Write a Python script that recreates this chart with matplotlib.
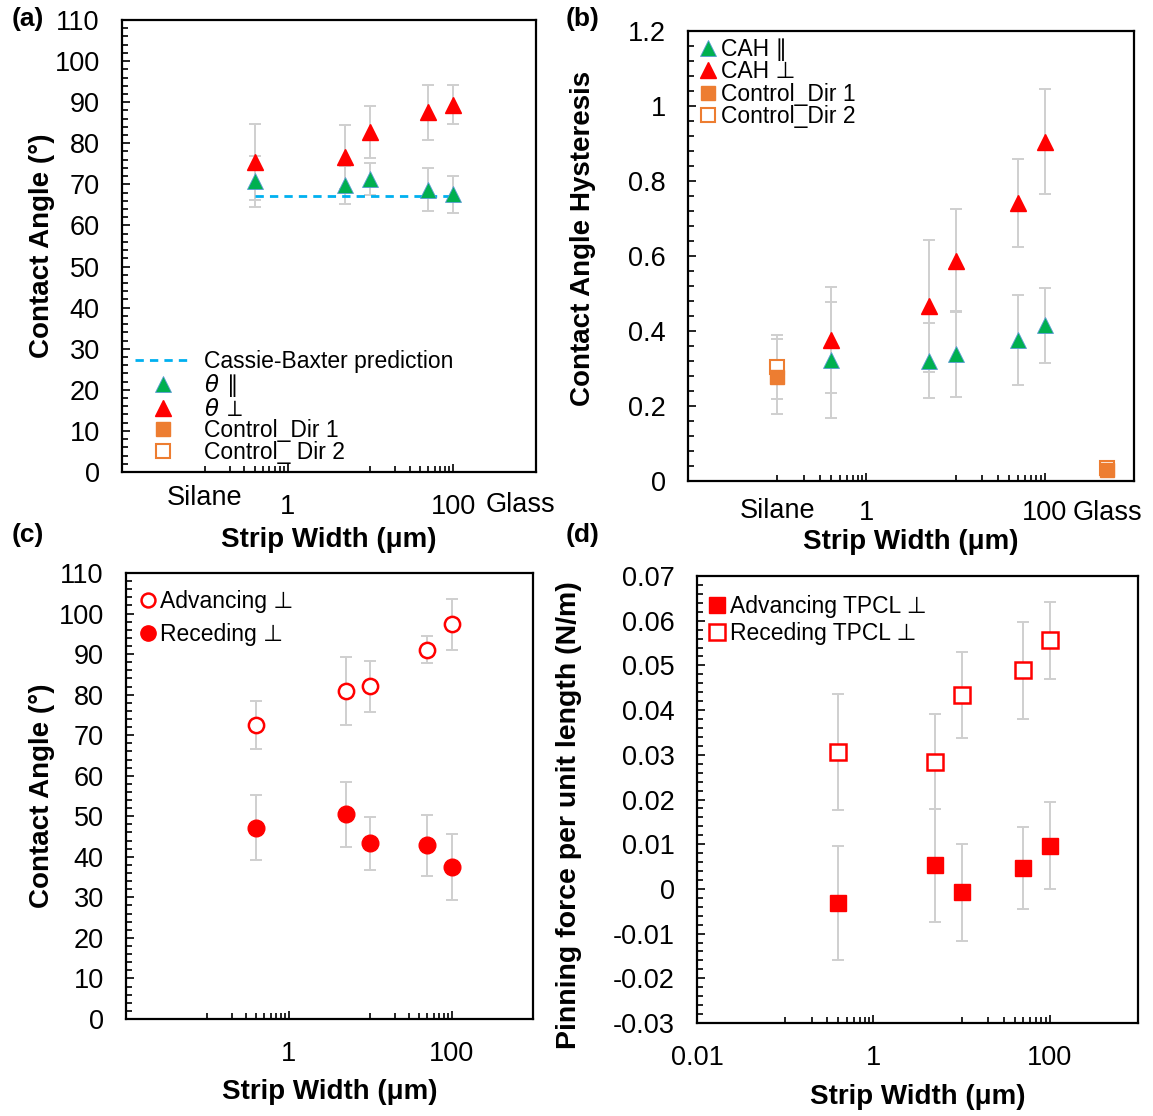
import numpy as np
import matplotlib
matplotlib.use('Agg')
import matplotlib.pyplot as plt
from matplotlib.lines import Line2D
from matplotlib.ticker import FixedLocator, MultipleLocator, NullFormatter, FuncFormatter

# strip widths (um) and the two control surfaces
widths = [0.4, 5, 10, 50, 100]
silane_x = 0.1
glass_x = 500
ctrl_x = [silane_x, glass_x]

# (a) contact angle
cassie_baxter = 67.2
theta_par = [70.8, 69.8, 71.3, 68.7, 67.6]
theta_par_err = [6.2, 4.7, 4.0, 5.3, 4.5]
theta_perp = [75.4, 76.6, 82.7, 87.5, 89.4]
theta_perp_err = [9.3, 7.8, 6.3, 6.6, 4.8]

# (b) contact angle hysteresis
cah_par = [0.323, 0.321, 0.339, 0.376, 0.416]
cah_par_err = [0.155, 0.100, 0.115, 0.120, 0.100]
cah_perp = [0.377, 0.466, 0.588, 0.742, 0.905]
cah_perp_err = [0.141, 0.176, 0.137, 0.117, 0.140]
ctrl_dir1 = [0.278, 0.030]
ctrl_dir1_err = [0.100, 0.004]
ctrl_dir2 = [0.304, 0.036]
ctrl_dir2_err = [0.085, 0.004]

# (c) advancing / receding angles
adv_perp = [72.6, 81.0, 82.1, 91.1, 97.3]
adv_perp_err = [5.9, 8.4, 6.3, 3.4, 6.3]
rec_perp = [47.2, 50.5, 43.3, 42.8, 37.5]
rec_perp_err = [8.0, 8.0, 6.5, 7.6, 8.2]

# (d) pinning force per unit length
f_adv = [-0.0032, 0.0053, -0.0008, 0.0046, 0.0097]
f_adv_err = [0.0128, 0.0126, 0.0108, 0.0092, 0.0097]
f_rec = [0.0307, 0.0285, 0.0433, 0.0489, 0.0556]
f_rec_err = [0.0130, 0.0107, 0.0096, 0.0109, 0.0086]

GREEN = '#00B050'
RED = '#FF0000'
ORANGE = '#ED7D31'
CB_BLUE = '#00B0F0'
ERR = '#CFCFCF'
TICK_FS = 19.5
LAB_FS = 20

plt.rcParams['font.family'] = ['Liberation Sans', 'DejaVu Sans']
plt.rcParams['axes.linewidth'] = 1.6

W, H = 1153, 1116
fig = plt.figure(figsize=(W / 100, H / 100), dpi=100)


def px_axes(l, t, r, b):
    return fig.add_axes([l / W, 1 - b / H, (r - l) / W, (b - t) / H])


def style_axes(ax, ymin, ymax, ymaj, ymin_step, yfmt=None, xpad=16):
    ax.set_xscale('log')
    ax.set_xlim(0.01, 1000)
    ax.set_ylim(ymin, ymax)
    ax.xaxis.set_major_locator(FixedLocator([0.01, 1, 100]))
    minors = [k * 0.1 for k in range(1, 10)] + [k * 10 for k in range(1, 10)]
    ax.xaxis.set_minor_locator(FixedLocator(minors))
    ax.xaxis.set_minor_formatter(NullFormatter())
    ax.yaxis.set_major_locator(MultipleLocator(ymaj))
    ax.yaxis.set_minor_locator(MultipleLocator(ymin_step))
    ax.tick_params(which='both', direction='in', width=1.2, labelsize=TICK_FS)
    ax.tick_params(which='major', length=6)
    ax.tick_params(which='minor', length=4)
    ax.tick_params(axis='y', which='both', pad=16, right=False)
    ax.tick_params(axis='x', which='both', pad=xpad, top=False)
    if yfmt is not None:
        ax.yaxis.set_major_formatter(FuncFormatter(yfmt))
    ax.xaxis.set_major_formatter(FuncFormatter(lambda v, p: '%g' % v))


def labels_xy(ax, ylab, ylx, xly, yly=0.5, yfs=LAB_FS):
    ax.set_ylabel(ylab, fontsize=yfs, fontweight='bold', va='center')
    ax.yaxis.set_label_coords(ylx, yly)
    ax.set_xlabel('Strip Width (μm)', fontsize=LAB_FS, fontweight='bold', va='center')
    ax.xaxis.set_label_coords(0.5, xly)


def eb(ax, x, y, err, z=2):
    ax.errorbar(x, y, yerr=err, fmt='none', ecolor=ERR, elinewidth=1.4,
                capsize=4.5, capthick=1.4, zorder=z)


# ---------------- (a) ----------------
ax = px_axes(122, 20, 536, 472)
style_axes(ax, 0, 110, 10, 2)
ax.set_xticks([1, 100])
ax.plot(widths, [cassie_baxter] * len(widths), ls=(0, (3, 2.2)), color=CB_BLUE, lw=2, zorder=3)
eb(ax, widths, theta_par, theta_par_err)
eb(ax, widths, theta_perp, theta_perp_err)
ax.plot(widths, theta_par, ls='none', marker='^', ms=12, mfc=GREEN, mec='#5B9BD5', mew=0.6, zorder=4)
ax.plot(widths, theta_perp, ls='none', marker='^', ms=12, mfc=RED, mec=RED, zorder=4)
ax.text(silane_x, -0.057, 'Silane', transform=ax.get_xaxis_transform(), ha='center', va='center',
        fontsize=TICK_FS)
ax.text(glass_x * 1.3, -0.073, 'Glass', transform=ax.get_xaxis_transform(), ha='center', va='center',
        fontsize=TICK_FS, clip_on=False)
labels_xy(ax, 'Contact Angle (°)', -0.193, -0.150)
handles = [
    Line2D([], [], ls=(0, (3, 2.2)), color=CB_BLUE, lw=2),
    Line2D([], [], ls='none', marker='^', ms=12, mfc=GREEN, mec='#5B9BD5', mew=0.6),
    Line2D([], [], ls='none', marker='^', ms=12, mfc=RED, mec=RED),
    Line2D([], [], ls='none', marker='s', ms=10, mfc=ORANGE, mec=ORANGE),
    Line2D([], [], ls='none', marker='s', ms=10, mfc='white', mec=ORANGE, mew=1.5),
]
labels = ['Cassie-Baxter prediction', r'$\theta\,\parallel$', r'$\theta\,\perp$',
          'Control_Dir 1', 'Control_ Dir 2']
ax.legend(handles, labels, loc='lower left', bbox_to_anchor=(0.031, 0.018), frameon=False,
          fontsize=16.5, handlelength=2.5, handletextpad=0.5, labelspacing=-0.06,
          borderpad=0, borderaxespad=0)

# ---------------- (b) ----------------
ax = px_axes(688, 31, 1134, 481)
style_axes(ax, 0, 1.2, 0.2, 0.04, yfmt=lambda v, p: '%g' % round(v, 2), xpad=14)
ax.set_xticks([1, 100])
eb(ax, ctrl_x, ctrl_dir2, ctrl_dir2_err)
eb(ax, ctrl_x, ctrl_dir1, ctrl_dir1_err)
eb(ax, widths, cah_par, cah_par_err)
eb(ax, widths, cah_perp, cah_perp_err)
ax.plot(ctrl_x, ctrl_dir2, ls='none', marker='s', ms=10, mfc='white', mec=ORANGE, mew=1.5, zorder=4)
ax.plot(ctrl_x, ctrl_dir1, ls='none', marker='s', ms=10, mfc=ORANGE, mec=ORANGE, zorder=5)
ax.plot(widths, cah_par, ls='none', marker='^', ms=12, mfc=GREEN, mec='#5B9BD5', mew=0.6, zorder=4)
ax.plot(widths, cah_perp, ls='none', marker='^', ms=12, mfc=RED, mec=RED, zorder=4)
ax.text(silane_x, -0.066, 'Silane', transform=ax.get_xaxis_transform(), ha='center', va='center',
        fontsize=TICK_FS)
ax.text(glass_x, -0.072, 'Glass', transform=ax.get_xaxis_transform(), ha='center', va='center',
        fontsize=TICK_FS, clip_on=False)
labels_xy(ax, 'Contact Angle Hysteresis', -0.235, -0.135, yly=0.54)
handles = [
    Line2D([], [], ls='none', marker='^', ms=12, mfc=GREEN, mec='#5B9BD5', mew=0.6),
    Line2D([], [], ls='none', marker='^', ms=12, mfc=RED, mec=RED),
    Line2D([], [], ls='none', marker='s', ms=10, mfc=ORANGE, mec=ORANGE),
    Line2D([], [], ls='none', marker='s', ms=10, mfc='white', mec=ORANGE, mew=1.5),
]
labels = ['CAH ∥', 'CAH ⊥', 'Control_Dir 1', 'Control_Dir 2']
ax.legend(handles, labels, loc='upper left', bbox_to_anchor=(0.02, 0.985), frameon=False,
          fontsize=16.5, handlelength=1.0, handletextpad=0.05, labelspacing=-0.02,
          borderpad=0, borderaxespad=0)

# ---------------- (c) ----------------
ax = px_axes(126, 573, 533, 1019)
style_axes(ax, 0, 110, 10, 2)
ax.set_xticks([1, 100])
eb(ax, widths, adv_perp, adv_perp_err)
eb(ax, widths, rec_perp, rec_perp_err)
ax.plot(widths, adv_perp, ls='none', marker='o', ms=11, mfc='white', mec=RED, mew=1.8, zorder=4)
ax.plot(widths, rec_perp, ls='none', marker='o', ms=12, mfc=RED, mec=RED, zorder=4)
labels_xy(ax, 'Contact Angle (°)', -0.206, -0.164)
handles = [
    Line2D([], [], ls='none', marker='o', ms=10, mfc='white', mec=RED, mew=1.8),
    Line2D([], [], ls='none', marker='o', ms=11, mfc=RED, mec=RED),
]
ax.legend(handles, ['Advancing ⊥', 'Receding ⊥'], loc='upper left', bbox_to_anchor=(0.025, 0.962),
          frameon=False, fontsize=16.5, handlelength=1.0, handletextpad=0.05, labelspacing=0.42,
          borderpad=0, borderaxespad=0)

# ---------------- (d) ----------------
ax = px_axes(697, 576, 1138, 1023)
style_axes(ax, -0.03, 0.07, 0.01, 0.002, yfmt=lambda v, p: '%g' % round(v, 3))
eb(ax, widths, f_adv, f_adv_err)
eb(ax, widths, f_rec, f_rec_err)
ax.plot(widths, f_rec, ls='none', marker='s', ms=12, mfc='white', mec=RED, mew=1.8, zorder=4)
ax.plot(widths, f_adv, ls='none', marker='s', ms=12, mfc=RED, mec=RED, zorder=4)
labels_xy(ax, 'Pinning force per unit length (N/m)', -0.29, -0.165, yly=0.466, yfs=20.5)
handles = [
    Line2D([], [], ls='none', marker='s', ms=11, mfc=RED, mec=RED),
    Line2D([], [], ls='none', marker='s', ms=11, mfc='white', mec=RED, mew=1.8),
]
ax.legend(handles, ['Advancing TPCL ⊥', 'Receding TPCL ⊥'], loc='upper left',
          bbox_to_anchor=(0.02, 0.958), frameon=False, fontsize=16.5, handlelength=1.0,
          handletextpad=0.05, labelspacing=0.2, borderpad=0, borderaxespad=0)

# panel letters
for lab, x, y in [('(a)', 28, 19), ('(b)', 583, 19), ('(c)', 28, 535), ('(d)', 583, 535)]:
    fig.text(x / W, 1 - y / H, lab, ha='center', va='center', fontsize=19, fontweight='bold')

fig.savefig('out.png', dpi=100)
